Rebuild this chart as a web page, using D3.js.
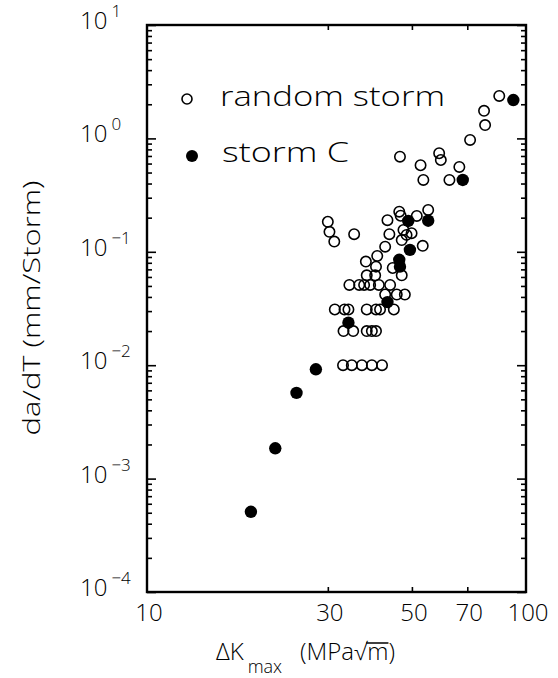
<!DOCTYPE html>
<html>
<head>
<meta charset="utf-8">
<script src="https://cdn.jsdelivr.net/npm/d3@7"></script>
<style>
  body { margin: 0; background: #fff; }
  svg { display: block; }
  text { font-family: "Open Sans", "Liberation Sans", Arial, sans-serif; font-weight: 300; fill: #000; }
</style>
</head>
<body>
<svg id="chart" width="558" height="678"></svg>
<script>
// ---- data ----
const xTickValues = [10, 30, 50, 70, 100];
const xTickLabels = ["10", "30", "50", "70", "100"];
const yExponents = [1, 0, -1, -2, -3, -4];

const randomStormX = [46.5, 59.0, 59.6, 52.7, 66.7, 53.6, 62.8, 85.0, 77.5, 78.0, 71.2,
  30.0, 30.3, 31.2, 35.2, 46.3, 46.7, 43.1, 51.5, 55.2, 43.6, 47.5, 48.4, 49.9, 47.0,
  53.4, 42.5, 40.5, 37.8, 44.5, 40.2, 38.0, 40.0, 47.0, 34.2, 36.3, 37.4, 38.8, 40.9,
  43.8, 42.5, 45.6, 47.9, 31.3, 33.2, 34.0, 38.0, 40.2, 41.2, 44.8, 33.0, 35.0, 38.0,
  39.2, 40.2, 32.9, 34.7, 36.9, 39.2, 41.7];
const randomStormY = [0.69, 0.74, 0.645, 0.58, 0.56, 0.43, 0.43, 2.37, 1.75, 1.31, 0.97,
  0.184, 0.150, 0.123, 0.143, 0.226, 0.208, 0.190, 0.207, 0.234, 0.143, 0.156, 0.141, 0.146, 0.127,
  0.113, 0.111, 0.092, 0.082, 0.072, 0.074, 0.062, 0.062, 0.062, 0.051, 0.051, 0.051, 0.051, 0.051,
  0.051, 0.042, 0.042, 0.042, 0.031, 0.031, 0.031, 0.031, 0.031, 0.031, 0.031, 0.020, 0.020, 0.020,
  0.020, 0.020, 0.010, 0.010, 0.010, 0.010, 0.010];

const stormCX = [18.8, 21.8, 24.8, 27.9, 34.0, 43.1, 46.3, 46.5, 49.4, 48.9, 55.2, 68.1, 92.6];
const stormCY = [5.1e-4, 1.85e-3, 5.7e-3, 9.2e-3, 0.0237, 0.036, 0.085, 0.074, 0.104, 0.187, 0.188, 0.43, 2.18];

const legendLabels = ["random storm", "storm C"];

// ---- layout ----
const L = 147, R = 526, T = 25, B = 592;
const svg = d3.select("#chart");
svg.append("rect").attr("width", 558).attr("height", 678).attr("fill", "#fff");

const x = d3.scaleLog().domain([10, 100]).range([L, R]);
const y = d3.scaleLog().domain([1e-4, 10]).range([B, T]);

const yMinor = [];
for (let e = -4; e < 1; e++) for (let m = 2; m <= 9; m++) yMinor.push(m * Math.pow(10, e));
const yMajor = yExponents.map(e => Math.pow(10, e));

function styleAxis(g) {
  g.select(".domain").remove();
  g.selectAll("line").attr("stroke", "#000").attr("stroke-width", 1.6);
  g.selectAll("text").remove();
}

svg.append("g").attr("transform", `translate(${L},0)`)
  .call(d3.axisLeft(y).tickValues(yMinor).tickSize(-5).tickFormat(""))
  .call(styleAxis);
svg.append("g").attr("transform", `translate(${L},0)`)
  .call(d3.axisLeft(y).tickValues(yMajor).tickSize(-9).tickFormat(""))
  .call(styleAxis);
svg.append("g").attr("transform", `translate(${R},0)`)
  .call(d3.axisRight(y).tickValues(yMinor).tickSize(-5).tickFormat(""))
  .call(styleAxis);
svg.append("g").attr("transform", `translate(${R},0)`)
  .call(d3.axisRight(y).tickValues(yMajor).tickSize(-9).tickFormat(""))
  .call(styleAxis);
svg.append("g").attr("transform", `translate(0,${B})`)
  .call(d3.axisBottom(x).tickValues([30, 50, 70]).tickSize(-5).tickFormat(""))
  .call(styleAxis);
svg.append("g").attr("transform", `translate(0,${T})`)
  .call(d3.axisTop(x).tickValues([30, 50, 70]).tickSize(-5).tickFormat(""))
  .call(styleAxis);

svg.append("rect").attr("x", L).attr("y", T).attr("width", R - L).attr("height", B - T)
  .attr("fill", "none").attr("stroke", "#000").attr("stroke-width", 2.4);

// x tick labels
svg.append("g").selectAll("text").data(xTickValues).join("text")
  .attr("x", d => x(d) + 2).attr("y", B + 29)
  .attr("text-anchor", "middle").attr("font-size", 24)
  .text((d, i) => xTickLabels[i]);

// y tick labels 10^n
const yl = svg.append("g").selectAll("text").data(yExponents).join("text")
  .attr("x", 80).attr("y", d => y(Math.pow(10, d)) + 4)
  .attr("font-size", 24);
yl.append("tspan").text("10");
yl.append("tspan").attr("dx", 4).attr("dy", -12).attr("font-size", 17)
  .text(d => d < 0 ? "\u2212" + Math.abs(d) : String(d));

// random storm (open)
svg.append("g").selectAll("circle").data(randomStormX).join("circle")
  .attr("cx", d => x(d)).attr("cy", (d, i) => y(randomStormY[i]))
  .attr("r", 5.2).attr("fill", "none").attr("stroke", "#000").attr("stroke-width", 1.6);
// storm C (filled)
svg.append("g").selectAll("circle").data(stormCX).join("circle")
  .attr("cx", d => x(d)).attr("cy", (d, i) => y(stormCY[i]))
  .attr("r", 6.2).attr("fill", "#000");

// legend
svg.append("circle").attr("cx", 187).attr("cy", 99).attr("r", 5)
  .attr("fill", "none").attr("stroke", "#000").attr("stroke-width", 1.6);
svg.append("text").attr("x", 220).attr("y", 106).attr("font-size", 27)
  .attr("textLength", 225).attr("lengthAdjust", "spacingAndGlyphs").text(legendLabels[0]);
svg.append("circle").attr("cx", 192).attr("cy", 156).attr("r", 6).attr("fill", "#000");
svg.append("text").attr("x", 222).attr("y", 162).attr("font-size", 27)
  .attr("textLength", 127).attr("lengthAdjust", "spacingAndGlyphs").text(legendLabels[1]);

// x axis title
const xt = svg.append("text").attr("x", 216).attr("y", 660).attr("font-size", 24);
xt.append("tspan").text("\u0394K");
xt.append("tspan").attr("dx", 4).attr("dy", 13).attr("font-size", 18).text("max");
xt.append("tspan").attr("dx", 18).attr("dy", -13).text("(MPa\u221A");
xt.append("tspan").text("m)");
// overline over the radicand "m"
{
  const node = xt.node();
  const full = node.textContent;
  const idx = full.lastIndexOf("m");
  const sq = full.indexOf("\u221A");
  const x0 = node.getEndPositionOfChar(sq).x - 1;
  const x1 = node.getEndPositionOfChar(idx).x;
  svg.append("line").attr("x1", x0).attr("x2", x1).attr("y1", 643).attr("y2", 643)
    .attr("stroke", "#000").attr("stroke-width", 1.5);
}

// y axis title
svg.append("text").attr("transform", "translate(40,308) rotate(-90)")
  .attr("text-anchor", "middle").attr("font-size", 24)
  .attr("textLength", 255).attr("lengthAdjust", "spacingAndGlyphs")
  .text("da/dT (mm/Storm)");
</script>
</body>
</html>
